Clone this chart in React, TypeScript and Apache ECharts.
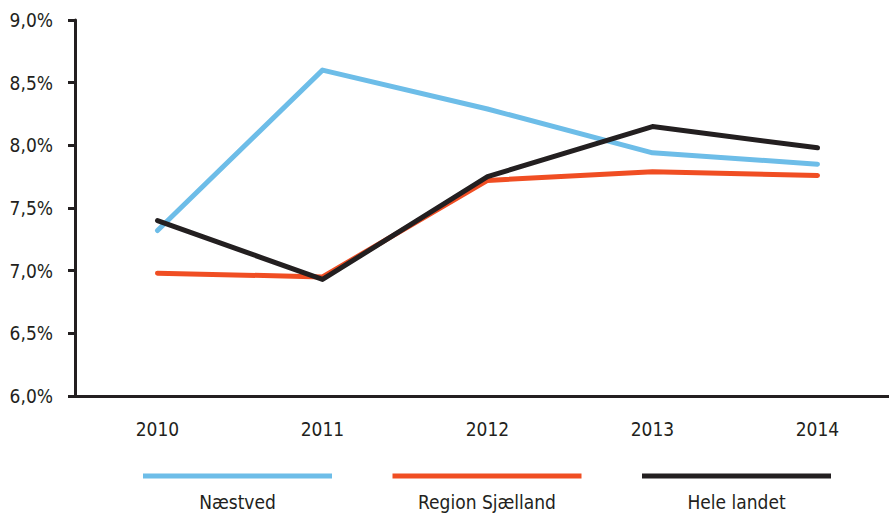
import React, { useEffect, useRef } from "react";
import * as echarts from "echarts";

const years = ["2010", "2011", "2012", "2013", "2014"];
const seriesNames = ["Næstved", "Region Sjælland", "Hele landet"];
const naestved = [7.32, 8.6, 8.29, 7.94, 7.85];
const regionSjaelland = [6.98, 6.95, 7.72, 7.79, 7.76];
const heleLandet = [7.4, 6.93, 7.75, 8.15, 7.98];
const colors = ["#6dbde8", "#f04e23", "#231f20"];
const yTicks = { min: 6, max: 9, interval: 0.5 };

const FONT = "'Liberation Sans Narrow', 'DejaVu Sans Condensed', 'Roboto Condensed', sans-serif";
const TEXT = "#231f20";

export default function App() {
  const ref = useRef<HTMLDivElement>(null);
  useEffect(() => {
    if (!ref.current) return;
    const chart = echarts.init(ref.current, null, { renderer: "svg" });
    const values = [naestved, regionSjaelland, heleLandet];
    const legendGraphics: any[] = [];
    seriesNames.forEach((name, i) => {
      const x0 = 143 + i * 249.5;
      legendGraphics.push({
        type: "line",
        shape: { x1: x0, y1: 476, x2: x0 + 189, y2: 476 },
        style: { stroke: colors[i], lineWidth: 5 },
      });
      legendGraphics.push({
        type: "text",
        x: x0 + 94.5,
        y: 502,
        style: {
          text: name,
          fill: TEXT,
          font: `19px ${FONT}`,
          align: "center",
          verticalAlign: "middle",
        },
      });
    });
    chart.setOption({
      animation: false,
      grid: { left: 75, top: 20, right: 0, bottom: 117, containLabel: false },
      xAxis: {
        type: "category",
        data: years,
        boundaryGap: true,
        axisLine: { show: true, lineStyle: { color: TEXT, width: 3 } },
        axisTick: { show: false },
        axisLabel: { color: TEXT, fontSize: 19, fontFamily: FONT, margin: 23 },
        splitLine: { show: false },
      },
      yAxis: {
        type: "value",
        min: yTicks.min,
        max: yTicks.max,
        interval: yTicks.interval,
        axisLine: { show: true, lineStyle: { color: TEXT, width: 3 } },
        axisTick: { show: true, inside: false, length: 7, lineStyle: { color: TEXT, width: 3 } },
        axisLabel: {
          color: TEXT,
          fontSize: 19,
          fontFamily: FONT,
          margin: 22,
          formatter: (v: number) => v.toFixed(1).replace(".", ",") + "%",
        },
        splitLine: { show: false },
      },
      series: seriesNames.map((name, i) => ({
        name,
        type: "line",
        data: values[i],
        symbol: "none",
        lineStyle: { color: colors[i], width: 5, cap: "round", join: "round" },
        z: 2 + i,
      })),
      graphic: legendGraphics,
    });
    return () => chart.dispose();
  }, []);
  return (
    <div
      style={{ position: "absolute", left: 0, top: 0, width: 889, height: 513, overflow: "hidden", background: "#fff" }}
    >
      <div ref={ref} style={{ width: 900, height: 513 }} />
    </div>
  );
}
